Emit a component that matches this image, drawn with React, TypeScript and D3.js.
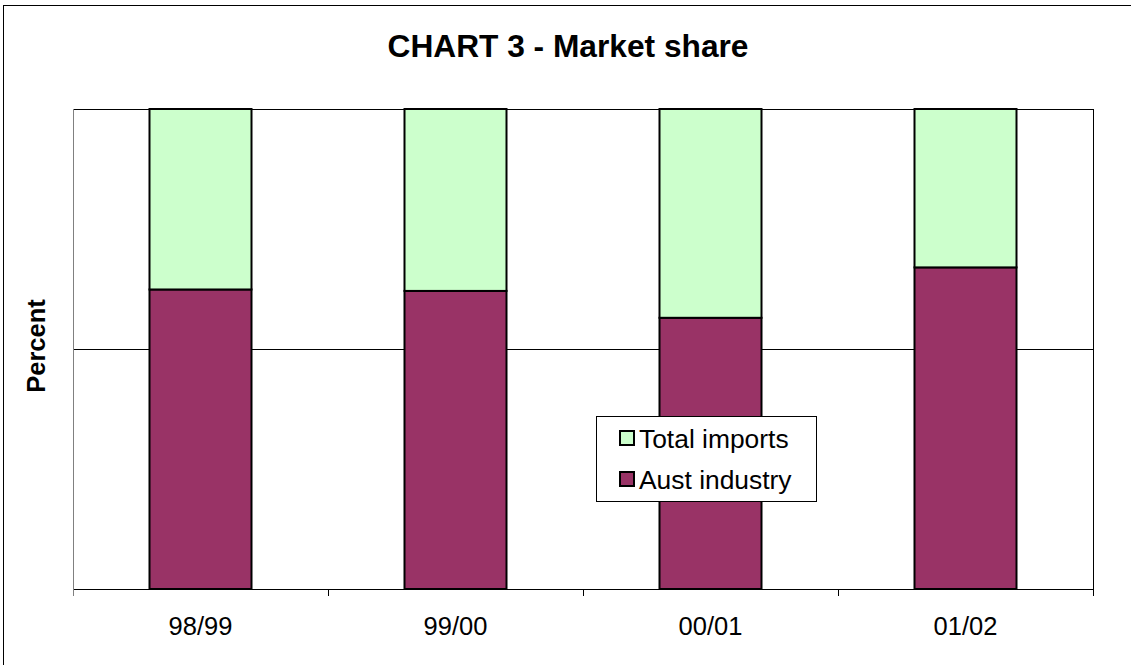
import React from "react";
import * as d3 from "d3";

const categories = ["98/99", "99/00", "00/01", "01/02"];
const austIndustry = [62.4, 62.1, 56.5, 67.0];
const totalImports = [37.6, 37.9, 43.5, 33.0];
const seriesNames = ["Aust industry", "Total imports"];
const seriesColors = ["#993366", "#CCFFCC"];
const yTicks = [0, 50, 100];

const W = 1131;
const H = 665;
const plot = { left: 73, top: 109, right: 1093, bottom: 589 };
const FONT = "Arial, 'Liberation Sans', Helvetica, sans-serif";

export default function App() {
  const x = d3
    .scaleBand<string>()
    .domain(categories)
    .range([plot.left, plot.right])
    .paddingInner(0.6)
    .paddingOuter(0.3);
  const xOuter = d3.scaleBand<string>().domain(categories).range([plot.left, plot.right]);
  const y = d3.scaleLinear().domain([0, 100]).range([plot.bottom, plot.top]);

  const rows = categories.map((c, i) => ({
    cat: c,
    "Aust industry": austIndustry[i],
    "Total imports": totalImports[i],
  }));
  const stacked = d3.stack<any>().keys(seriesNames)(rows);

  const boundaries = categories.map((c) => xOuter(c)!).concat([plot.right]);

  return (
    <svg
      width={W}
      height={H}
      style={{ position: "absolute", left: 0, top: 0, background: "#fff" }}
      fontFamily={FONT}
    >
      <rect x={0} y={0} width={W} height={H} fill="#fff" />
      <rect x={3.5} y={5.5} width={1130} height={662} fill="none" stroke="#000" strokeWidth={1} />
      <text x={568} y={57} textAnchor="middle" fontSize={31.7} fontWeight="bold" fill="#000">
        CHART 3 - Market share
      </text>

      {/* gridlines */}
      {yTicks
        .filter((t) => t > 0 && t < 100)
        .map((t) => (
          <line
            key={t}
            x1={plot.left}
            x2={plot.right}
            y1={Math.round(y(t)) + 0.5}
            y2={Math.round(y(t)) + 0.5}
            stroke="#000"
            strokeWidth={1}
          />
        ))}
      {/* plot border top/right */}
      <line x1={plot.left} x2={plot.right} y1={plot.top + 0.5} y2={plot.top + 0.5} stroke="#000" strokeWidth={1} />
      <line x1={plot.right + 0.5} x2={plot.right + 0.5} y1={plot.top} y2={plot.bottom} stroke="#000" strokeWidth={1} />

      {/* bars */}
      {stacked.map((s, si) =>
        s.map((d, i) => (
          <rect
            key={`${si}-${i}`}
            x={x(categories[i])!}
            y={y(d[1])}
            width={x.bandwidth()}
            height={y(d[0]) - y(d[1])}
            fill={seriesColors[si]}
            stroke="#000"
            strokeWidth={2}
          />
        ))
      )}

      {/* axes */}
      <line x1={plot.left + 0.5} x2={plot.left + 0.5} y1={plot.top} y2={plot.bottom} stroke="#808080" strokeWidth={1} />
      <line x1={plot.left} x2={plot.right + 1} y1={plot.bottom + 0.5} y2={plot.bottom + 0.5} stroke="#000" strokeWidth={1} />
      {boundaries.map((bx, i) => (
        <line
          key={i}
          x1={bx + 0.5}
          x2={bx + 0.5}
          y1={plot.bottom}
          y2={plot.bottom + 7}
          stroke={i === 0 ? "#808080" : "#000"}
          strokeWidth={1}
        />
      ))}
      {categories.map((c) => (
        <text
          key={c}
          x={xOuter(c)! + xOuter.bandwidth() / 2}
          y={635}
          textAnchor="middle"
          fontSize={25.5}
          fill="#000"
        >
          {c}
        </text>
      ))}

      <text
        transform={`translate(45, 346) rotate(-90)`}
        textAnchor="middle"
        fontSize={25.5}
        fontWeight="bold"
        fill="#000"
      >
        Percent
      </text>

      {/* legend */}
      <g>
        <rect x={596.5} y={416.5} width={220} height={85} fill="#fff" stroke="#000" strokeWidth={1} />
        {[1, 0].map((si, row) => (
          <g key={si}>
            <rect
              x={620}
              y={431 + row * 41}
              width={14}
              height={14}
              fill={seriesColors[si]}
              stroke="#000"
              strokeWidth={2}
            />
            <text x={639} y={448 + row * 41} fontSize={26.4} fill="#000">
              {seriesNames[si]}
            </text>
          </g>
        ))}
      </g>
    </svg>
  );
}
